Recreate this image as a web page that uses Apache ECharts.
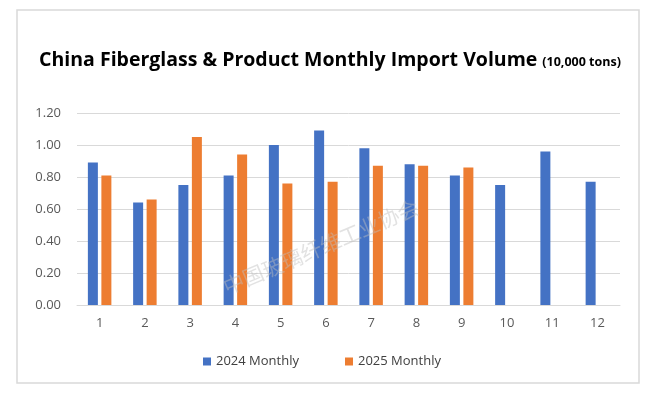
<!DOCTYPE html>
<html><head><meta charset="utf-8">
<script src="https://cdn.jsdelivr.net/npm/echarts@6/dist/echarts.min.js"></script>
<style>html,body{margin:0;padding:0;background:#fff}#c{width:660px;height:393px}</style>
</head><body><div id="c"></div>
<script>
const months = ['1','2','3','4','5','6','7','8','9','10','11','12'];
const series2024 = [0.89,0.64,0.75,0.81,1.00,1.09,0.98,0.88,0.81,0.75,0.96,0.77];
const series2025 = [0.81,0.66,1.05,0.94,0.76,0.77,0.87,0.87,0.86,null,null,null];
const yTicks = {min:0,max:1.2,interval:0.2};
const chart = echarts.init(document.getElementById('c'));
chart.setOption({
  animation:false,
  backgroundColor:'#fff',
  title:{
    text:'{a|China Fiberglass & Product Monthly Import Volume} {b|(10,000 tons)}',
    left:'center', top:45,
    textStyle:{rich:{
      a:{fontFamily:'Open Sans',fontWeight:'bold',fontSize:19.5,color:'#000'},
      b:{fontFamily:'Open Sans',fontWeight:'bold',fontSize:12.5,color:'#000',padding:[4,0,0,0]}
    }}
  },
  graphic:[
    {type:'rect',shape:{x:17,y:10,width:622,height:373},style:{fill:'none',stroke:'#d9d9d9',lineWidth:1.5},z:-1},
    {type:'text',x:220,y:278,rotation:0.40,style:{text:'中国玻璃纤维工业协会',font:'21px "Noto Sans CJK SC"',fill:'rgba(190,190,190,0.45)'},z:100}
  ],
  legend:{
    bottom:20,left:198,itemGap:46,itemWidth:8,itemHeight:8,icon:'rect',
    textStyle:{fontFamily:'Open Sans',fontSize:13,color:'#404040'},
    data:['2024 Monthly','2025 Monthly']
  },
  grid:{left:77,right:40,top:113,bottom:88},
  xAxis:{type:'category',data:months,
    axisLine:{lineStyle:{color:'#d9d9d9'}},axisTick:{show:false},
    axisLabel:{fontFamily:'Open Sans',fontSize:13,color:'#595959',margin:12}},
  yAxis:{type:'value',min:yTicks.min,max:yTicks.max,interval:yTicks.interval,
    axisLine:{show:false},axisTick:{show:false},
    splitLine:{lineStyle:{color:'#d9d9d9'}},
    axisLabel:{fontFamily:'Open Sans',fontSize:13,color:'#595959',margin:16,formatter:v=>v.toFixed(2)}},
  series:[
    {name:'2024 Monthly',type:'bar',data:series2024,itemStyle:{color:'#4472C4'},barWidth:10,barGap:'35%'},
    {name:'2025 Monthly',type:'bar',data:series2025,itemStyle:{color:'#ED7D31'},barWidth:10}
  ]
});
</script></body></html>
